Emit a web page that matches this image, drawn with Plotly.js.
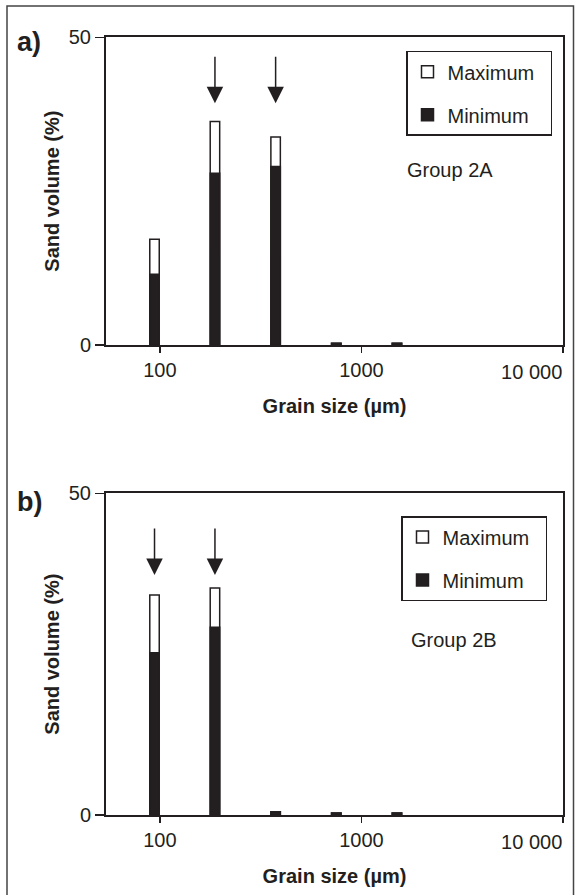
<!DOCTYPE html>
<html>
<head>
<meta charset="utf-8">
<script src="https://cdn.plot.ly/plotly-3.0.1.min.js"></script>
<style>html,body{margin:0;padding:0;background:#fff;}#chart{width:576px;height:895px;}</style>
</head>
<body>
<div id="chart"></div>
<script>
// ---- data ----
const grainSize = [94, 187.5, 375, 750, 1500];       // µm, class mid-points
const maxA = [17.2, 36.3, 33.8, 0.3, 0.3];           // Group 2A maximum (%)
const minA = [11.5, 27.9, 29.0, 0.3, 0.3];           // Group 2A minimum (%)
const maxB = [34.2, 35.3, 0.5, 0.3, 0.3];            // Group 2B maximum (%)
const minB = [25.2, 29.2, 0.5, 0.3, 0.3];            // Group 2B minimum (%)
const modesA = [187.5, 375];                          // arrows, panel a
const modesB = [94, 187.5];                           // arrows, panel b
const xTicks = [100, 1000, 10000];
const xTickText = ['100', '1000', '10 000'];
const yTicks = [0, 50];
const seriesNames = ['Maximum', 'Minimum'];
const groupNames = ['Group 2A', 'Group 2B'];
const panelLabels = ['a)', 'b)'];

// ---- styling ----
const INK = '#231f20';
const FONT = 'Liberation Sans, Arial, Helvetica, sans-serif';
const NB = '\u00a0';
const lx = grainSize.map(Math.log10);
const BW = 0.047;
const nT = xTicks.length;
// centred labels on the main axis; the last label is drawn left of its tick
const mainText = xTickText.map((t, i) => i === nT - 1 ? '' : t);
const legendNames = seriesNames.map(n => n + NB + NB);

function bar(y, name, fill, xa, ya, legend, group) {
  return {
    type: 'bar', x: lx, y: y, name: name, width: BW,
    xaxis: xa, yaxis: ya, legend: legend, legendgroup: group,
    marker: {color: fill, line: {color: INK, width: 1.5}},
    hoverinfo: 'skip'
  };
}

const traces = [
  bar(maxA, legendNames[0], '#ffffff', 'x', 'y', 'legend', 'a1'),
  bar(minA, legendNames[1], INK, 'x', 'y', 'legend', 'a2'),
  bar(maxB, legendNames[0], '#ffffff', 'x2', 'y2', 'legend2', 'b1'),
  bar(minB, legendNames[1], INK, 'x2', 'y2', 'legend2', 'b2'),
  {type: 'scatter', x: [], y: [], xaxis: 'x3', yaxis: 'y', showlegend: false, hoverinfo: 'skip'},
  {type: 'scatter', x: [], y: [], xaxis: 'x4', yaxis: 'y2', showlegend: false, hoverinfo: 'skip'}
];

const H = 895, W = 576, L = 106, R = 13;
const PW = W - L - R;
const py = p => 1 - p / H;          // pixel row -> paper y
const px = p => (p - L) / PW;       // pixel col -> paper x
const XR = [Math.log10(54), 4];

function xAxis(anchor) {
  return {
    anchor: anchor, domain: [0, 1],
    range: XR, type: 'linear',
    tickvals: xTicks.map(Math.log10), ticktext: mainText,
    ticks: 'outside', ticklen: 6, tickwidth: 1.5, tickcolor: INK,
    showline: true, linewidth: 2, linecolor: INK, mirror: true,
    showgrid: false, zeroline: false, automargin: false,
    tickfont: {family: FONT, size: 20, color: INK},
    title: {text: 'Grain size (\u00b5m)', standoff: 19,
            font: {family: FONT, size: 20, color: INK, weight: 'bold'}}
  };
}
function xEndAxis(over, anchor) {
  return {
    overlaying: over, anchor: anchor, side: 'bottom', domain: [0, 1],
    range: XR, type: 'linear',
    tickvals: [Math.log10(xTicks[nT - 1])], ticktext: [xTickText[nT - 1]],
    ticklabelposition: 'outside left', ticklabelstandoff: 9,
    ticks: 'outside', ticklen: 6, tickwidth: 1.5, tickcolor: INK,
    showline: false, showgrid: false, zeroline: false, automargin: false,
    tickfont: {family: FONT, size: 20, color: INK}
  };
}
function yAxis(anchor, domain) {
  return {
    anchor: anchor, domain: domain, range: [0, 50],
    tickvals: yTicks, ticks: 'outside', ticklen: 9, tickwidth: 1.5, tickcolor: INK,
    showline: true, linewidth: 2, linecolor: INK, mirror: true,
    showgrid: false, zeroline: false, automargin: false,
    tickfont: {family: FONT, size: 20, color: INK},
    title: {text: 'Sand volume (%)', standoff: 4,
            font: {family: FONT, size: 20, color: INK, weight: 'bold'}}
  };
}

function arrows(modes, xa, ya, tipY) {
  return modes.map(m => ({
    x: Math.log10(m), y: tipY, xref: xa, yref: ya, text: '',
    showarrow: true, ax: 0, ay: -48, arrowhead: 2, arrowsize: 2.2,
    arrowwidth: 1.5, arrowcolor: INK
  }));
}

function legendBox(x, y) {
  return {
    x: x, y: y, xref: 'paper', yref: 'paper', xanchor: 'left', yanchor: 'top',
    bordercolor: INK, borderwidth: 1.5, bgcolor: '#ffffff',
    font: {family: FONT, size: 20, color: INK},
    traceorder: 'grouped', tracegroupgap: 14, itemwidth: 30
  };
}

const layout = {
  width: W, height: H,
  margin: {l: L, r: R, t: 0, b: 0},
  paper_bgcolor: '#ffffff', plot_bgcolor: '#ffffff',
  barmode: 'overlay', showlegend: true,
  font: {family: FONT, color: INK},
  xaxis: xAxis('y'),
  yaxis: yAxis('x', [py(345), py(37.3)]),
  xaxis2: xAxis('y2'),
  yaxis2: yAxis('x2', [py(815), py(493.3)]),
  xaxis3: xEndAxis('x', 'y'),
  xaxis4: xEndAxis('x2', 'y2'),
  legend: legendBox(px(406), py(50.7)),
  legend2: legendBox(px(401), py(516)),
  annotations: [
    ...arrows(modesA, 'x', 'y', 39.3),
    ...arrows(modesB, 'x2', 'y2', 37.3),
    {text: groupNames[0], xref: 'paper', yref: 'paper', x: px(405), y: py(170),
     xanchor: 'left', yanchor: 'middle', showarrow: false,
     font: {family: FONT, size: 20, color: INK}},
    {text: groupNames[1], xref: 'paper', yref: 'paper', x: px(409), y: py(640),
     xanchor: 'left', yanchor: 'middle', showarrow: false,
     font: {family: FONT, size: 20, color: INK}},
    {text: panelLabels[0], xref: 'paper', yref: 'paper', x: px(15), y: py(42),
     xanchor: 'left', yanchor: 'middle', showarrow: false,
     font: {family: FONT, size: 27, color: INK, weight: 'bold'}},
    {text: panelLabels[1], xref: 'paper', yref: 'paper', x: px(15), y: py(502),
     xanchor: 'left', yanchor: 'middle', showarrow: false,
     font: {family: FONT, size: 27, color: INK, weight: 'bold'}}
  ],
  shapes: [
    {type: 'rect', xref: 'paper', yref: 'paper',
     x0: px(7), x1: px(573.5), y0: py(905), y1: py(6),
     line: {color: '#444444', width: 1.5}, fillcolor: 'rgba(0,0,0,0)', layer: 'below'}
  ]
};

Plotly.newPlot('chart', traces, layout, {staticPlot: true, displayModeBar: false});
</script>
</body>
</html>
